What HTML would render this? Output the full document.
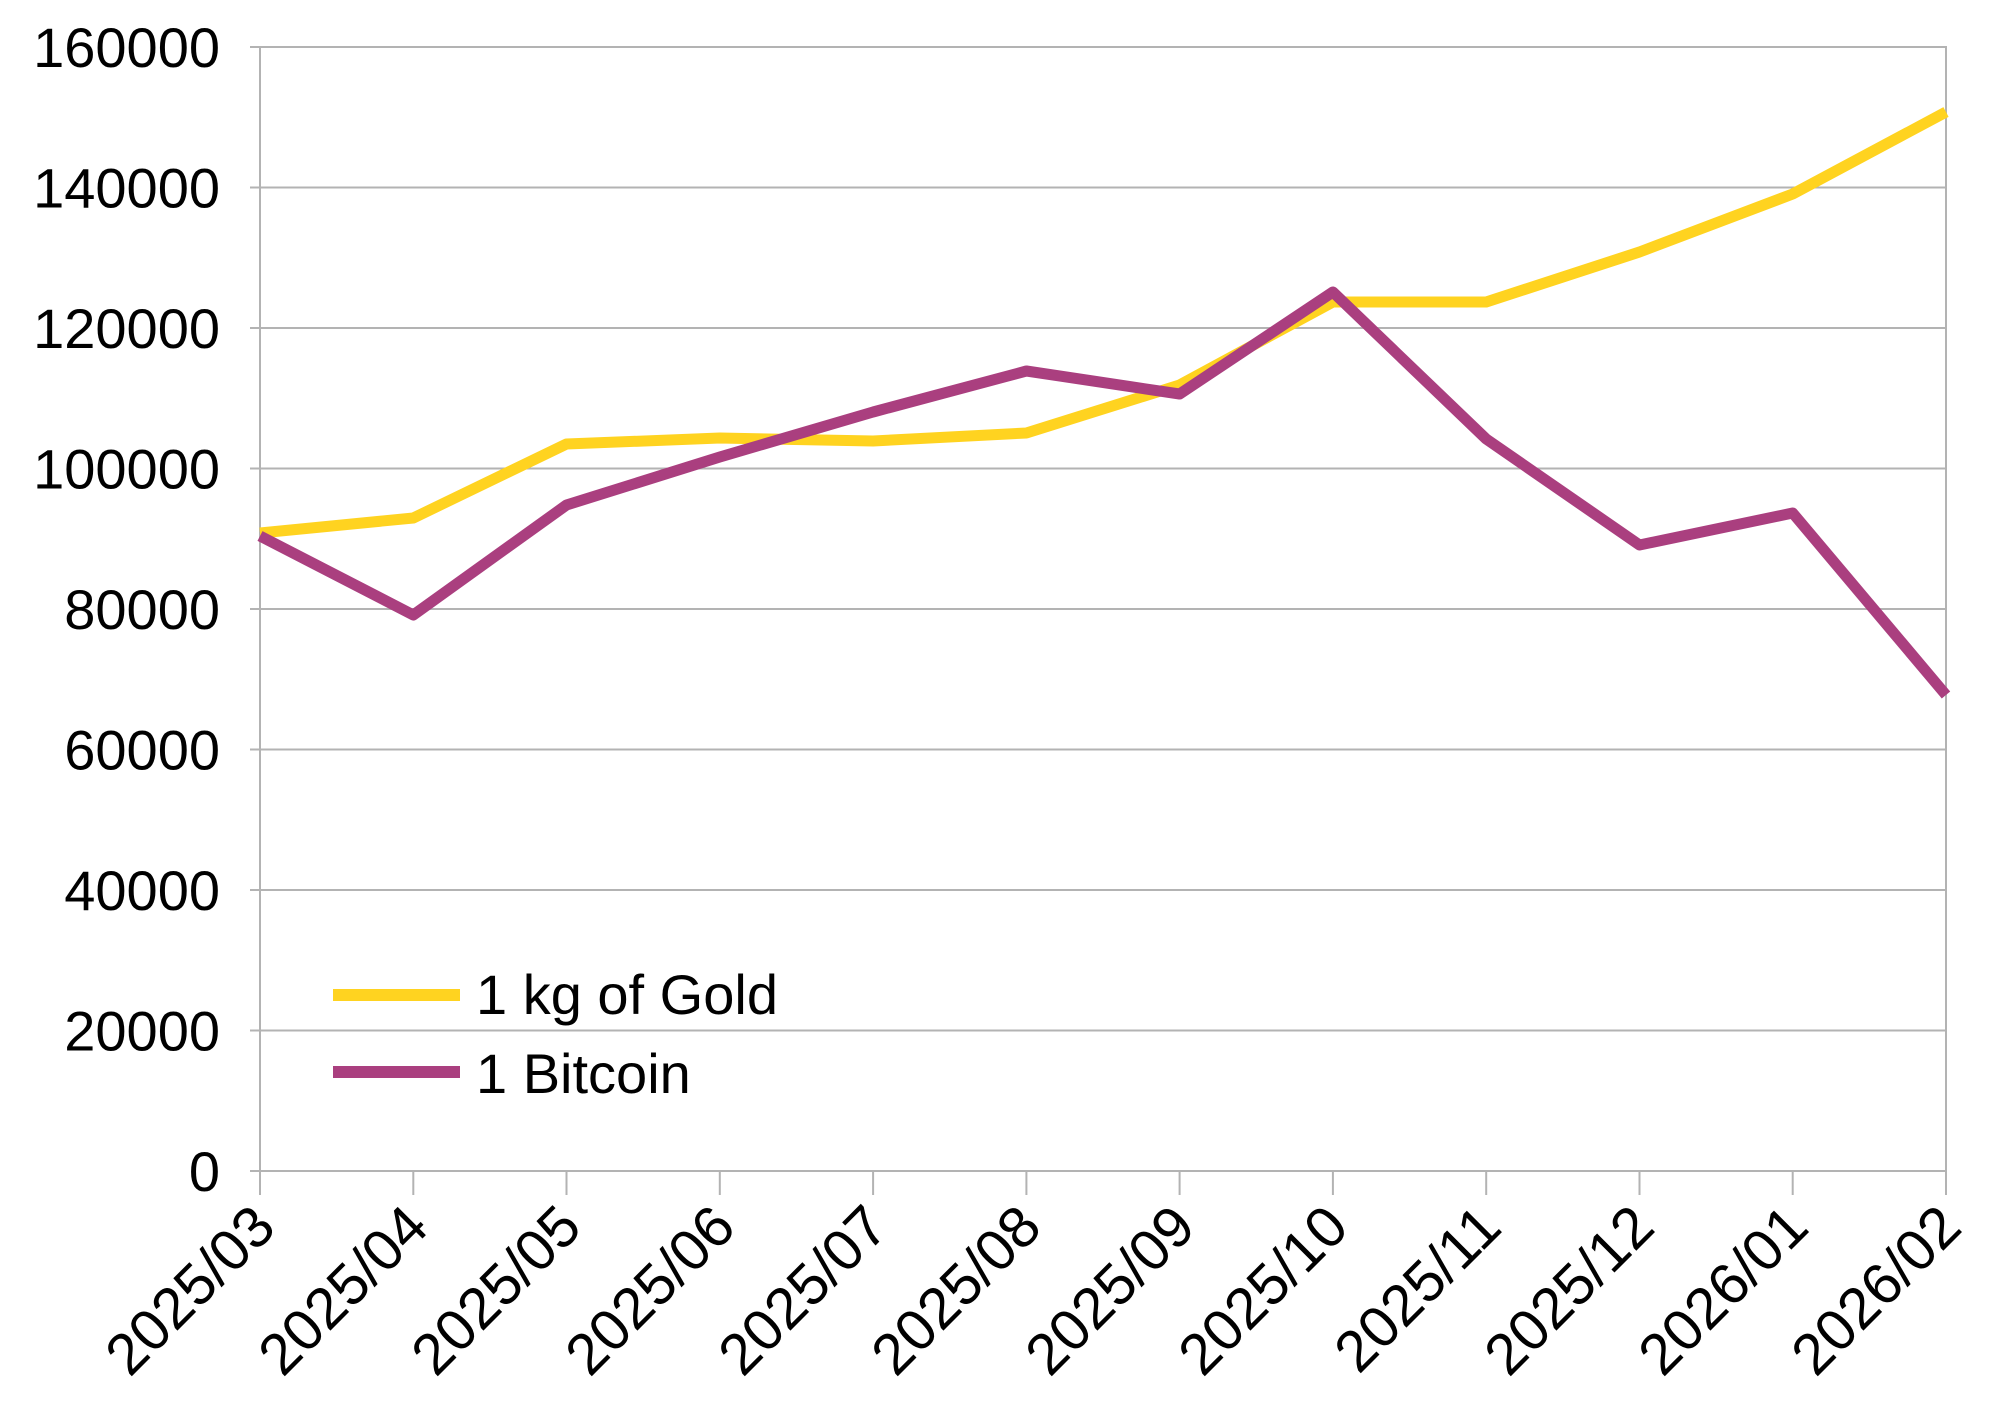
<!DOCTYPE html>
<html><head><meta charset="utf-8"><style>
html,body{margin:0;padding:0;background:#fff;}
svg{display:block;font-family:"Liberation Sans",sans-serif;}
</style></head><body>
<svg width="2000" height="1424" xmlns="http://www.w3.org/2000/svg">
<g stroke="#b3b3b3" stroke-width="2" fill="none">
<line x1="250" y1="47" x2="1947" y2="47"/>
<line x1="250" y1="187.5" x2="1947" y2="187.5"/>
<line x1="250" y1="328" x2="1947" y2="328"/>
<line x1="250" y1="468.5" x2="1947" y2="468.5"/>
<line x1="250" y1="609" x2="1947" y2="609"/>
<line x1="250" y1="749.5" x2="1947" y2="749.5"/>
<line x1="250" y1="890" x2="1947" y2="890"/>
<line x1="250" y1="1030.5" x2="1947" y2="1030.5"/>
<line x1="250" y1="1171" x2="1947" y2="1171"/>
<line x1="260" y1="47" x2="260" y2="1195"/>
<line x1="1946" y1="47" x2="1946" y2="1195"/>
<line x1="413.3" y1="1171" x2="413.3" y2="1195"/>
<line x1="566.5" y1="1171" x2="566.5" y2="1195"/>
<line x1="719.8" y1="1171" x2="719.8" y2="1195"/>
<line x1="873.1" y1="1171" x2="873.1" y2="1195"/>
<line x1="1026.4" y1="1171" x2="1026.4" y2="1195"/>
<line x1="1179.6" y1="1171" x2="1179.6" y2="1195"/>
<line x1="1332.9" y1="1171" x2="1332.9" y2="1195"/>
<line x1="1486.2" y1="1171" x2="1486.2" y2="1195"/>
<line x1="1639.5" y1="1171" x2="1639.5" y2="1195"/>
<line x1="1792.7" y1="1171" x2="1792.7" y2="1195"/>
</g>
<g font-size="56" text-anchor="end" fill="#000">
<text x="220" y="67">160000</text>
<text x="220" y="207.5">140000</text>
<text x="220" y="348">120000</text>
<text x="220" y="488.5">100000</text>
<text x="220" y="629">80000</text>
<text x="220" y="769.5">60000</text>
<text x="220" y="910">40000</text>
<text x="220" y="1050.5">20000</text>
<text x="220" y="1191">0</text>
</g>
<g font-size="58" text-anchor="end" fill="#000">
<text transform="translate(278,1230) rotate(-45)">2025/03</text>
<text transform="translate(431,1230) rotate(-45)">2025/04</text>
<text transform="translate(584,1230) rotate(-45)">2025/05</text>
<text transform="translate(738,1230) rotate(-45)">2025/06</text>
<text transform="translate(891,1230) rotate(-45)">2025/07</text>
<text transform="translate(1044,1230) rotate(-45)">2025/08</text>
<text transform="translate(1198,1230) rotate(-45)">2025/09</text>
<text transform="translate(1351,1230) rotate(-45)">2025/10</text>
<text transform="translate(1504,1230) rotate(-45)">2025/11</text>
<text transform="translate(1657,1230) rotate(-45)">2025/12</text>
<text transform="translate(1811,1230) rotate(-45)">2026/01</text>
<text transform="translate(1964,1230) rotate(-45)">2026/02</text>
</g>
<polyline fill="none" stroke="#ffd320" stroke-width="11" stroke-linejoin="round"
points="260,533 413.3,518 566.5,444 719.8,438 873.1,441 1026.4,433 1179.6,385 1332.9,302 1486.2,302 1639.5,252 1792.7,194 1946,112"/>
<polyline fill="none" stroke="#aa3f7f" stroke-width="11" stroke-linejoin="round"
points="260,536 413.3,615 566.5,505 719.8,457 873.1,412 1026.4,371 1179.6,394 1332.9,292 1486.2,439 1639.5,545 1792.7,513 1946,695"/>
<line x1="333" y1="995" x2="460" y2="995" stroke="#ffd320" stroke-width="12"/>
<line x1="333" y1="1072" x2="460" y2="1072" stroke="#aa3f7f" stroke-width="12"/>
<text x="476" y="1014" font-size="56">1 kg of Gold</text>
<text x="476" y="1093" font-size="56">1 Bitcoin</text>
</svg>
</body></html>
